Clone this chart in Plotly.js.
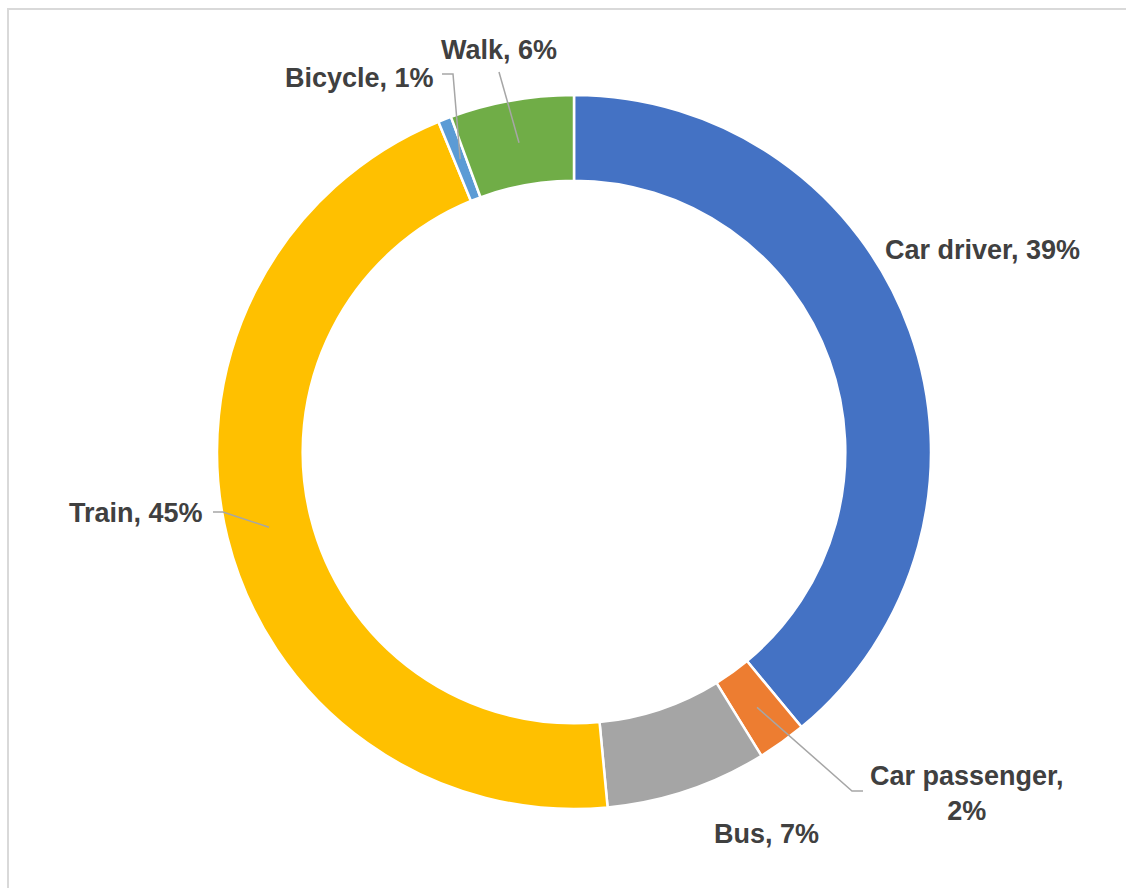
<!DOCTYPE html>
<html><head><meta charset="utf-8">
<script src="https://cdn.plot.ly/plotly-3.0.1.min.js"></script>
<style>
html,body{margin:0;padding:0;background:#fff;overflow:hidden}
#chart{width:1126px;height:888px}
#frame{position:absolute;left:7px;top:8px;width:1300px;height:1000px;border-left:2px solid #d9d9d9;border-top:2px solid #d9d9d9;pointer-events:none}
</style></head><body>
<div id="chart"></div><div id="frame"></div>
<script>
// Data
const categories = ['Car driver', 'Car passenger', 'Bus', 'Train', 'Bicycle', 'Walk'];
const shares = [39.0, 2.2, 7.3, 45.3, 0.6, 5.6];
const colors = ['#4472C4', '#ED7D31', '#A5A5A5', '#FFC000', '#5B9BD5', '#70AD47'];

// Layout (pixels)
const W = 1126, H = 888;
const cx = 574, cy = 452, R = 357, hole = 0.76;
const labelPos = {
  'Car driver': [982, 250],
  'Car passenger': [967, 793],
  'Bus': [766, 834],
  'Train': [136, 513],
  'Bicycle': [359, 78],
  'Walk': [499, 50]
};
const leaderStart = {
  'Car passenger': [[863, 791], [852, 791]],
  'Train': [[213, 512], [223, 512]],
  'Bicycle': [[442, 74], [453, 74]],
  'Walk': [[499, 72]]
};
const wrapAfterComma = {'Car passenger': true};

const px = x => x / W;
const py = y => 1 - y / H;

const total = shares.reduce((a, b) => a + b, 0);
const rMid = R * (1 + hole) / 2;
let cum = 0;
const annotations = [], shapes = [];
categories.forEach((c, i) => {
  const v = shares[i];
  const th = 2 * Math.PI * (cum + v / 2) / total;
  cum += v;
  const ax = cx + rMid * Math.sin(th), ay = cy - rMid * Math.cos(th);
  const pct = Math.round(v / total * 100) + '%';
  const txt = c + ',' + (wrapAfterComma[c] ? '<br>' : ' ') + pct;
  const [lx, ly] = labelPos[c];
  annotations.push({
    xref: 'paper', yref: 'paper', x: px(lx), y: py(ly),
    xanchor: 'center', yanchor: 'middle', showarrow: false, align: 'center',
    text: txt,
    font: {family: 'Liberation Sans, Arial, sans-serif', size: 27, color: '#404040', weight: 700}
  });
  if (leaderStart[c]) {
    const pts = leaderStart[c].concat([[ax, ay]]);
    const path = pts.map((p, k) => (k ? 'L' : 'M') + px(p[0]) + ',' + py(p[1])).join(' ');
    shapes.push({type: 'path', xref: 'paper', yref: 'paper', path: path,
      line: {color: '#A6A6A6', width: 1.5}});
  }
});

const trace = {
  type: 'pie',
  labels: categories,
  values: shares,
  sort: false,
  direction: 'clockwise',
  rotation: 0,
  hole: hole,
  marker: {colors: colors, line: {color: '#FFFFFF', width: 2.5}},
  textinfo: 'none',
  hoverinfo: 'label+percent',
  domain: {x: [px(cx - R), px(cx + R)], y: [py(cy + R), py(cy - R)]},
  showlegend: false
};

const layout = {
  width: W, height: H,
  margin: {l: 0, r: 0, t: 0, b: 0},
  paper_bgcolor: '#FFFFFF',
  showlegend: false,
  annotations: annotations,
  shapes: shapes
};

Plotly.newPlot('chart', [trace], layout, {displayModeBar: false, staticPlot: true});
</script>
</body></html>
